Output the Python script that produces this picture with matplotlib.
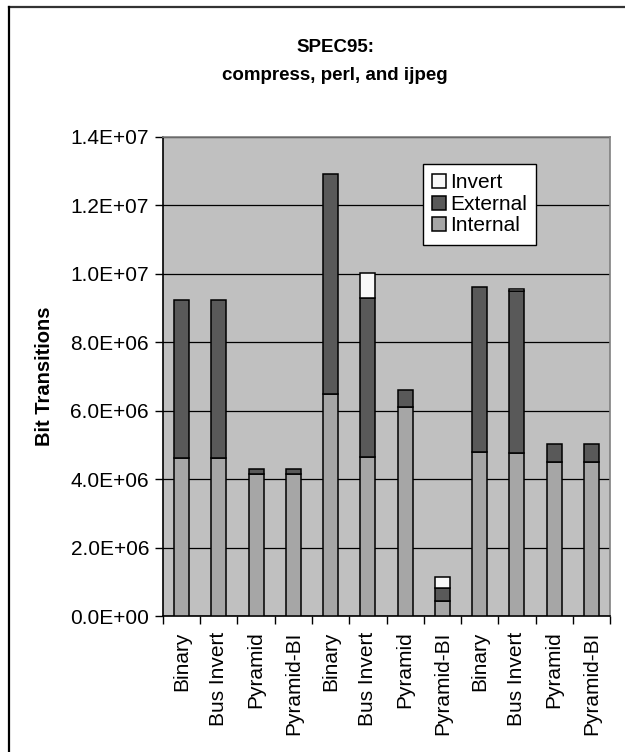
import matplotlib
matplotlib.use('Agg')
import matplotlib.pyplot as plt
from matplotlib.lines import Line2D
import numpy as np

plt.rcParams['font.family'] = ['Liberation Sans', 'DejaVu Sans']

categories = ['Binary', 'Bus Invert', 'Pyramid', 'Pyramid-BI'] * 3
internal = [4.61e6, 4.61e6, 4.14e6, 4.14e6, 6.49e6, 4.66e6, 6.10e6, 0.45e6, 4.80e6, 4.75e6, 4.51e6, 4.51e6]
external = [4.63e6, 4.63e6, 0.15e6, 0.15e6, 6.43e6, 4.63e6, 0.51e6, 0.36e6, 4.81e6, 4.75e6, 0.53e6, 0.53e6]
invert = [0, 0, 0, 0, 0, 0.73e6, 0, 0.34e6, 0, 0.07e6, 0, 0]
yticks = [0, 2e6, 4e6, 6e6, 8e6, 1e7, 1.2e7, 1.4e7]
ytick_labels = ['0.0E+00', '2.0E+06', '4.0E+06', '6.0E+06', '8.0E+06', '1.0E+07', '1.2E+07', '1.4E+07']


def main():
    fig = plt.figure(figsize=(6.25, 7.52), dpi=100)
    ax = fig.add_axes([163 / 625, 1 - 616 / 752, 447 / 625, 479 / 752])
    ax.set_facecolor('#C0C0C0')

    x = np.arange(len(categories))
    w = 0.4
    ew = 1.1
    b1 = ax.bar(x, internal, w, color='#A6A6A6', edgecolor='black', linewidth=ew, label='Internal', zorder=3)
    b2 = ax.bar(x, external, w, bottom=internal, color='#595959', edgecolor='black', linewidth=ew,
                label='External', zorder=3)
    bot = np.array(internal) + np.array(external)
    inv = np.array(invert)
    # only draw invert segments that exist
    mask = inv > 0
    b3 = ax.bar(x[mask], inv[mask], w, bottom=bot[mask], color='#F8F8F8', edgecolor='black', linewidth=ew,
                label='Invert', zorder=3)

    ax.set_xlim(-0.5, len(categories) - 0.5)
    ax.set_ylim(0, 1.4e7)
    ax.set_yticks(yticks)
    ax.set_yticklabels(ytick_labels, fontsize=15)
    ax.yaxis.grid(True, color='black', linewidth=0.9, zorder=1)
    ax.set_axisbelow(True)

    ax.set_xticks(np.arange(len(categories) + 1) - 0.5)
    ax.set_xticklabels([])
    ax.set_xticks(x, minor=True)
    ax.set_xticklabels(categories, minor=True, rotation=90, fontsize=15)
    ax.tick_params(axis='x', which='minor', length=0, pad=11)
    ax.tick_params(axis='x', which='major', length=6, width=1, direction='out')
    ax.tick_params(axis='y', length=6, width=1, direction='out', pad=4)

    for s in ['left', 'bottom']:
        ax.spines[s].set_color('black')
        ax.spines[s].set_linewidth(1.2)
    for s in ['top', 'right']:
        ax.spines[s].set_color('#808080')
        ax.spines[s].set_linewidth(1.2)

    fig.text(335 / 625, 1 - 48 / 752, 'SPEC95:', ha='center', va='center', fontsize=13.5, fontweight='bold')
    fig.text(335 / 625, 1 - 75 / 752, 'compress, perl, and ijpeg', ha='center', va='center',
             fontsize=13.5, fontweight='bold')
    fig.text(45 / 625, 1 - 376 / 752, 'Bit Transitions', ha='center', va='center', rotation=90,
             fontsize=14.5, fontweight='bold')

    leg = ax.legend([b3, b2, b1], ['Invert', 'External', 'Internal'],
                    loc='upper left', bbox_to_anchor=(423 / 625, 1 - 164 / 752),
                    bbox_transform=fig.transFigure, fontsize=15, frameon=True, fancybox=False,
                    edgecolor='black', framealpha=1, borderpad=0.45, labelspacing=0.12,
                    handlelength=0.65, handleheight=0.65, handletextpad=0.2, borderaxespad=0)
    leg.get_frame().set_linewidth(1.0)

    # chart border (top and left visible)
    fig.add_artist(Line2D([9 / 625, 1], [1 - 7 / 752, 1 - 7 / 752], color='#333333', linewidth=1.6,
                          transform=fig.transFigure))
    fig.add_artist(Line2D([9 / 625, 9 / 625], [0, 1 - 7 / 752], color='black', linewidth=1.6,
                          transform=fig.transFigure))

    fig.savefig('out.png', dpi=100)


if __name__ == '__main__':
    main()
